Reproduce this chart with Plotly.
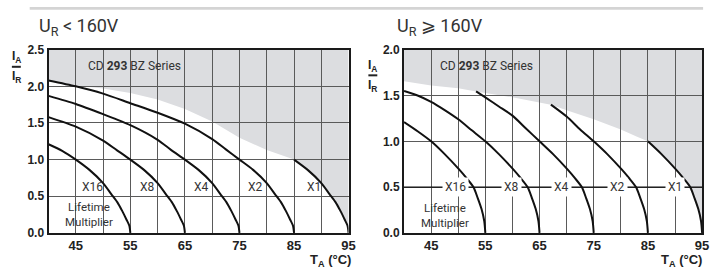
import plotly.graph_objects as go

W, H = 720, 275

# ---------------- data ----------------
x_tickvals = [45, 55, 65, 75, 85, 95]
x_ticktext = ["45", "55", "65", "75", "85", "95"]
left_y_ticks = [0.0, 0.5, 1.0, 1.5, 2.0, 2.5]
right_y_ticks = [0.0, 0.5, 1.0, 1.5, 2.0]
multipliers = ["X16", "X8", "X4", "X2", "X1"]

# Left chart: U_R < 160V  (T_A in °C, I_A/I_R)
L_X16_T = [40, 42.5, 45, 47.5, 50, 51.5, 52.6, 53.5, 54.3, 54.8, 55]
L_X16_V = [1.21, 1.12, 1.00, 0.86, 0.68, 0.53, 0.42, 0.30, 0.18, 0.10, 0.0]
L_X8_T = [40, 45, 50, 52.5, 55, 57.5, 60, 61.5, 62.6, 63.5, 64.3, 64.8, 65]
L_X8_V = [1.58, 1.45, 1.26, 1.13, 1.00, 0.86, 0.68, 0.53, 0.42, 0.30, 0.18, 0.10, 0.0]
L_X4_T = [40, 45, 50, 55, 60, 62.5, 65, 67.5, 70, 71.5, 72.6, 73.5, 74.3, 74.8, 75]
L_X4_V = [1.87, 1.76, 1.62, 1.47, 1.27, 1.13, 1.00, 0.86, 0.68, 0.53, 0.42, 0.30, 0.18, 0.10, 0.0]
L_X2_T = [40, 45, 50, 55, 60, 65, 70, 72.5, 75, 77.5, 80, 81.5, 82.6, 83.5, 84.3, 84.8, 85]
L_X2_V = [2.08, 2.00, 1.90, 1.77, 1.64, 1.49, 1.28, 1.14, 1.00, 0.86, 0.68, 0.53, 0.42, 0.30, 0.18, 0.10, 0.0]
L_X1_T = [85, 87.5, 90, 91.5, 92.6, 93.5, 94.3, 94.8, 95]
L_X1_V = [1.00, 0.86, 0.68, 0.53, 0.42, 0.30, 0.18, 0.10, 0.0]
L_LIMIT_T = [40, 45, 50, 55, 60, 65, 70, 75, 80, 85]
L_LIMIT_V = [2.08, 2.01, 1.97, 1.91, 1.82, 1.69, 1.52, 1.30, 1.13, 1.00]

# Right chart: U_R >= 160V
R_X16_T = [40, 42.5, 45, 47.5, 50.2, 51.5, 52.8, 53.6, 54.3, 54.8, 55]
R_X16_V = [1.21, 1.11, 1.00, 0.86, 0.69, 0.60, 0.50, 0.38, 0.26, 0.13, 0.0]
R_X8_T = [40, 42.5, 45, 47.5, 50, 52.5, 55, 57.5, 60.2, 61.5, 62.8, 63.6, 64.3, 64.8, 65]
R_X8_V = [1.55, 1.50, 1.43, 1.34, 1.24, 1.12, 1.00, 0.86, 0.69, 0.60, 0.50, 0.38, 0.26, 0.13, 0.0]
R_X4_T = [53.3, 55, 57.5, 60, 62.5, 65, 67.5, 70.2, 71.5, 72.8, 73.6, 74.3, 74.8, 75]
R_X4_V = [1.545, 1.48, 1.38, 1.28, 1.14, 1.00, 0.86, 0.69, 0.60, 0.50, 0.38, 0.26, 0.13, 0.0]
R_X2_T = [67.1, 70, 72.5, 75, 77.5, 80.2, 81.5, 82.8, 83.6, 84.3, 84.8, 85]
R_X2_V = [1.40, 1.27, 1.13, 1.00, 0.86, 0.69, 0.60, 0.50, 0.38, 0.26, 0.13, 0.0]
R_X1_T = [85, 87.5, 90.2, 91.5, 92.8, 93.6, 94.3, 94.8, 95]
R_X1_V = [1.00, 0.86, 0.69, 0.60, 0.50, 0.38, 0.26, 0.13, 0.0]
R_LIMIT_T = [40, 45, 50, 53.3, 60, 67.1, 70, 75, 80, 83, 85]
R_LIMIT_V = [1.655, 1.61, 1.58, 1.545, 1.48, 1.40, 1.34, 1.24, 1.13, 1.05, 1.00]

# ---------------- styling / layout ----------------
COND = "Roboto, Lato, sans-serif"
BOLD = "Liberation Sans, Arial, sans-serif"
TXT = "#333333"
GRAY_FILL = "rgb(220,221,224)"
GRID = "#5a5a5a"


def pxx(p):
    return p / W


def pxy(p):
    return 1 - p / H


L_DOM = [pxx(49), pxx(352)]
R_DOM = [pxx(408), pxx(709)]
Y_DOM = [pxy(238), pxy(45)]

fig = go.Figure()

left_curves = [(L_X16_T, L_X16_V), (L_X8_T, L_X8_V), (L_X4_T, L_X4_V),
               (L_X2_T, L_X2_V), (L_X1_T, L_X1_V)]
right_curves = [(R_X16_T, R_X16_V), (R_X8_T, R_X8_V), (R_X4_T, R_X4_V),
                (R_X2_T, R_X2_V), (R_X1_T, R_X1_V)]

for (t, v) in left_curves:
    fig.add_trace(go.Scatter(x=t, y=v, mode="lines", xaxis="x", yaxis="y",
                             line=dict(color="#111111", width=2, shape="spline", smoothing=0.7),
                             showlegend=False, hoverinfo="skip"))
for (t, v) in right_curves:
    fig.add_trace(go.Scatter(x=t, y=v, mode="lines", xaxis="x2", yaxis="y2",
                             line=dict(color="#111111", width=2, shape="spline", smoothing=0.7),
                             showlegend=False, hoverinfo="skip"))


def region_path(lim_t, lim_v, end_t, end_v, top):
    pts = list(zip(lim_t, lim_v)) + list(zip(end_t[1:], end_v[1:]))
    pts += [(end_t[-1], top), (lim_t[0], top)]
    return "M " + " L ".join(f"{a},{b}" for a, b in pts) + " Z"


shapes = [
    dict(type="path", xref="x", yref="y", layer="below", line=dict(width=0),
         fillcolor=GRAY_FILL, path=region_path(L_LIMIT_T, L_LIMIT_V, L_X1_T, L_X1_V, left_y_ticks[-1])),
    dict(type="path", xref="x2", yref="y2", layer="below", line=dict(width=0),
         fillcolor=GRAY_FILL, path=region_path(R_LIMIT_T, R_LIMIT_V, R_X1_T, R_X1_V, right_y_ticks[-1])),
    # multiplier reference line on the right chart
    dict(type="line", xref="x2 domain", yref="y2", x0=0, x1=1, y0=0.5, y1=0.5,
         layer="above", line=dict(color="#111111", width=1.3)),
    # thin gray strip at the top
    dict(type="rect", xref="paper", yref="paper", x0=pxx(30), x1=pxx(710), y0=pxy(3), y1=pxy(0),
         line=dict(width=0), fillcolor="#d4d4d4"),
    # fraction bars of the y-axis labels
    dict(type="line", xref="paper", yref="paper", x0=pxx(12), x1=pxx(21), y0=pxy(63), y1=pxy(63),
         line=dict(color="#222222", width=2)),
    dict(type="line", xref="paper", yref="paper", x0=pxx(372), x1=pxx(381), y0=pxy(72), y1=pxy(72),
         line=dict(color="#222222", width=2)),
]

annotations = []

annotations.append(dict(xref="paper", yref="paper", x=pxx(37), y=pxy(21), xanchor="left", yanchor="middle",
                        text="U<sub>R</sub> &lt; 160V", showarrow=False,
                        font=dict(family=COND, size=18, color=TXT)))
annotations.append(dict(xref="paper", yref="paper", x=pxx(399), y=pxy(21), xanchor="left", yanchor="middle",
                        text="U<sub>R</sub> ⩾ 160V", showarrow=False,
                        font=dict(family=COND, size=18, color=TXT)))

for (xc, ya, yr) in [(16.5, 53, 74), (376.5, 62, 83)]:
    annotations.append(dict(xref="paper", yref="paper", x=pxx(xc), y=pxy(ya), xanchor="center", yanchor="middle",
                            text="<b>I<sub>A</sub></b>", showarrow=False,
                            font=dict(family=BOLD, size=12, color="#222222")))
    annotations.append(dict(xref="paper", yref="paper", x=pxx(xc), y=pxy(yr), xanchor="center", yanchor="middle",
                            text="<b>I<sub>R</sub></b>", showarrow=False,
                            font=dict(family=BOLD, size=12, color="#222222")))

for xr in [356, 711]:
    annotations.append(dict(xref="paper", yref="paper", x=pxx(xr), y=pxy(267), xanchor="right", yanchor="middle",
                            text="<b>T<sub>A</sub> (°C)</b>", showarrow=False,
                            font=dict(family=BOLD, size=13, color="#222222")))

annotations.append(dict(xref="x", yref="y", x=55.8, y=2.28, text="CD <b>293</b> BZ Series", showarrow=False,
                        font=dict(family=COND, size=12, color=TXT)))
annotations.append(dict(xref="x2", yref="y2", x=55.2, y=1.82, text="CD <b>293</b> BZ Series", showarrow=False,
                        font=dict(family=COND, size=12, color=TXT)))

left_label_x = [48.0, 58.1, 68.1, 77.9, 88.6]
right_label_x = [49.5, 59.9, 69.0, 79.4, 90.0]
for name, lx in zip(multipliers, left_label_x):
    annotations.append(dict(xref="x", yref="y", x=lx, y=0.62, text=name, showarrow=False,
                            font=dict(family=COND, size=12, color=TXT)))
for name, rx in zip(multipliers, right_label_x):
    annotations.append(dict(xref="x2", yref="y2", x=rx, y=0.5, text=name, showarrow=False,
                            bgcolor="white", borderpad=2,
                            font=dict(family=COND, size=12, color=TXT)))

annotations.append(dict(xref="x", yref="y", x=47.4, y=0.25, text="Lifetime<br>Multiplier", showarrow=False,
                        font=dict(family=COND, size=11.5, color=TXT)))
annotations.append(dict(xref="x2", yref="y2", x=47.5, y=0.185, text="Lifetime<br>Multiplier", showarrow=False,
                        font=dict(family=COND, size=11.5, color=TXT)))

axis_common = dict(range=[40, 95], tickmode="array", tickvals=x_tickvals, ticktext=x_ticktext,
                   showgrid=True, gridcolor=GRID, gridwidth=1, zeroline=False,
                   minor=dict(tick0=40, dtick=5, showgrid=True, gridcolor=GRID, gridwidth=1, ticks=""),
                   showline=True, linecolor="#1a1a1a", linewidth=2, mirror=True, ticks="",
                   tickfont=dict(family=BOLD, size=13, color="#222222", weight="bold"), fixedrange=True)
yaxis_common = dict(tickmode="array", tickformat=".1f",
                    showgrid=True, gridcolor=GRID, gridwidth=1, zeroline=False,
                    showline=True, linecolor="#1a1a1a", linewidth=2, mirror=True, ticks="",
                    tickfont=dict(family=BOLD, size=12, color="#222222", weight="bold"), fixedrange=True)

fig.update_layout(
    width=W, height=H,
    margin=dict(l=0, r=0, t=0, b=0),
    paper_bgcolor="white", plot_bgcolor="white",
    showlegend=False,
    xaxis=dict(domain=L_DOM, anchor="y", **axis_common),
    yaxis=dict(domain=Y_DOM, anchor="x", range=[0, 2.5], tickvals=left_y_ticks, **yaxis_common),
    xaxis2=dict(domain=R_DOM, anchor="y2", **axis_common),
    yaxis2=dict(domain=Y_DOM, anchor="x2", range=[0, 2.0], tickvals=right_y_ticks, **yaxis_common),
    shapes=shapes,
    annotations=annotations,
)

fig.write_html("out.html", config={"displayModeBar": False},
               post_script="document.documentElement.style.overflow='hidden';"
                           "document.body.style.margin='0px';document.body.style.overflow='hidden';")
